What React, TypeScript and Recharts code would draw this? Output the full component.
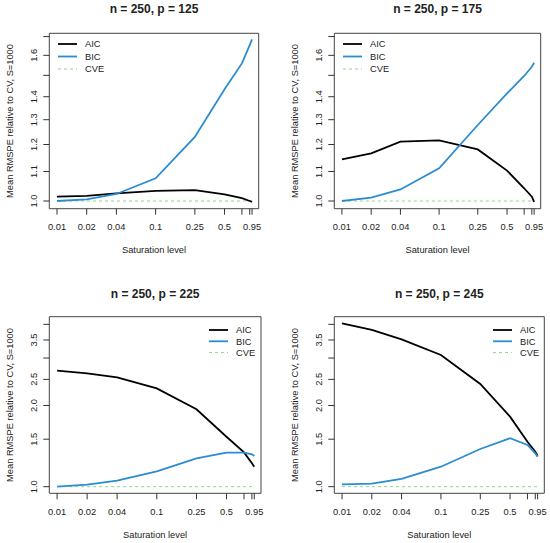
import React from 'react'
import { LineChart, Line, XAxis, YAxis, ReferenceArea, Legend } from 'recharts'

// saturation levels on the x axis (log scale)
const SATURATION = [0.01, 0.02, 0.04, 0.1, 0.25, 0.5, 0.75, 0.9, 0.95]
const X_TICKS = [0.01, 0.02, 0.04, 0.1, 0.25, 0.5, 0.75, 0.9, 0.95]
const X_LABELS = ['0.01', '0.02', '0.04', '0.1', '0.25', '0.5', '', '', '0.95']

const Y_TICKS_TOP = [1.0, 1.1, 1.2, 1.3, 1.4, 1.5, 1.6, 1.7]
const Y_LABELS_TOP = ['1.0', '1.1', '1.2', '1.3', '1.4', '', '1.6', '']
const Y_TICKS_BOTTOM = [1.0, 1.5, 2.0, 2.5, 3.0, 3.5, 4.0]
const Y_LABELS_BOTTOM = ['1.0', '1.5', '2.0', '2.5', '', '3.5', '']

const CVE = [1, 1, 1, 1, 1, 1, 1, 1, 1]

const AIC_P125 = [1.014, 1.017, 1.025, 1.033, 1.036, 1.022, 1.009, 1.0, 0.997]
const BIC_P125 = [1.0, 1.005, 1.023, 1.076, 1.23, 1.434, 1.559, 1.654, 1.685]

const AIC_P175 = [1.144, 1.166, 1.211, 1.216, 1.181, 1.103, 1.042, 1.014, 0.997]
const BIC_P175 = [1.0, 1.011, 1.038, 1.111, 1.278, 1.415, 1.497, 1.542, 1.562]

const AIC_P225 = [2.693, 2.633, 2.545, 2.316, 1.936, 1.532, 1.34, 1.221, 1.186]
const BIC_P225 = [1.0, 1.017, 1.053, 1.14, 1.274, 1.337, 1.337, 1.319, 1.3]

const AIC_P245 = [4.036, 3.812, 3.52, 3.079, 2.404, 1.818, 1.468, 1.348, 1.3]
const BIC_P245 = [1.02, 1.026, 1.068, 1.186, 1.38, 1.512, 1.428, 1.33, 1.292]

const X_DOMAIN = [0.00835, 1.11]
const Y_DOMAIN_TOP = [0.9755, 1.718]
const Y_DOMAIN_BOTTOM = [0.945, 4.27]

const FONT = '"Liberation Sans", Arial, Helvetica, sans-serif'
const TEXT = '#222'
const BLUE = '#2b8cd2'
const GREEN = '#8fd48f'
const FS = 9.3

function XTick({ x, y, payload, index }: any) {
  return (
    <text x={x} y={y + 15.3} textAnchor="middle" fontSize={FS} fill={TEXT} fontFamily={FONT}>
      {X_LABELS[index]}
    </text>
  )
}

function makeYTick(labels: string[]) {
  return function YTick({ x, y, index }: any) {
    const cx = x - 10
    return (
      <text
        x={cx}
        y={y}
        dy="0.35em"
        textAnchor="middle"
        fontSize={FS}
        fill={TEXT}
        fontFamily={FONT}
        transform={`rotate(-90, ${cx}, ${y})`}
      >
        {labels[index]}
      </text>
    )
  }
}

function XTitle({ viewBox }: any) {
  const cx = viewBox.x + viewBox.width / 2
  return (
    <text x={cx} y={viewBox.y + 44.5} textAnchor="middle" fontSize={FS} fill={TEXT} fontFamily={FONT}>
      Saturation level
    </text>
  )
}

function YTitle({ viewBox }: any) {
  const cx = viewBox.x + viewBox.width - 40
  const cy = viewBox.y + viewBox.height / 2
  return (
    <text
      x={cx}
      y={cy}
      dy="0.35em"
      textAnchor="middle"
      fontSize={FS}
      fill={TEXT}
      fontFamily={FONT}
      transform={`rotate(-90, ${cx}, ${cy})`}
    >
      Mean RMSPE relative to CV, S=1000
    </text>
  )
}

function LegendBox({ gap }: { gap: number }) {
  const rows = [
    { name: 'AIC', color: '#000', dash: undefined, w: 1.8 },
    { name: 'BIC', color: BLUE, dash: undefined, w: 1.8 },
    { name: 'CVE', color: GREEN, dash: '3 3', w: 1 },
  ]
  return (
    <svg width={60} height={40} style={{ display: 'block', overflow: 'visible' }}>
      {rows.map((r, i) => (
        <g key={r.name}>
          <line x1={0} x2={19} y1={6 + i * gap} y2={6 + i * gap} stroke={r.color} strokeWidth={r.w} strokeDasharray={r.dash} />
          <text x={27} y={6 + i * gap} dy="0.35em" fontSize={FS} fill={TEXT} fontFamily={FONT}>
            {r.name}
          </text>
        </g>
      ))}
    </svg>
  )
}

interface PanelProps {
  title: string
  aic: number[]
  bic: number[]
  yDomain: number[]
  yTicks: number[]
  yLabels: string[]
  left: number
  top: number
  width: number
  height: number
  box: { x0: number; x1: number; y0: number; y1: number }
  legend: { x: number; y: number; gap: number }
}

function Panel({ title, aic, bic, yDomain, yTicks, yLabels, left, top, width, height, box, legend }: PanelProps) {
  const data = SATURATION.map((s, i) => ({ s, aic: aic[i], bic: bic[i], cve: CVE[i] }))
  const YTick = makeYTick(yLabels)
  return (
    <div style={{ position: 'absolute', left, top, width, height }}>
      <div
        style={{
          position: 'absolute',
          left: box.x0,
          width: box.x1 - box.x0,
          top: top === 0 ? 2 : 17,
          textAlign: 'center',
          fontFamily: FONT,
          fontWeight: 'bold',
          fontSize: 12,
          color: TEXT,
          lineHeight: '14px',
          whiteSpace: 'nowrap',
        }}
      >
        {title}
      </div>
      <LineChart
        width={width}
        height={height}
        data={data}
        margin={{ top: box.y0, right: width - box.x1, bottom: 0, left: 0 }}
      >
        <XAxis
          dataKey="s"
          type="number"
          scale="log"
          domain={X_DOMAIN}
          allowDataOverflow
          ticks={X_TICKS}
          interval={0}
          axisLine={false}
          tickSize={6}
          tickMargin={0}
          tickLine={{ stroke: '#333' }}
          tick={<XTick />}
          height={height - box.y1}
          label={<XTitle />}
        />
        <YAxis
          type="number"
          scale="log"
          domain={yDomain}
          allowDataOverflow
          ticks={yTicks}
          interval={0}
          axisLine={false}
          tickSize={6}
          tickMargin={0}
          tickLine={{ stroke: '#333' }}
          tick={<YTick />}
          width={box.x0}
          label={<YTitle />}
        />
        <ReferenceArea
          x1={X_DOMAIN[0]}
          x2={X_DOMAIN[1]}
          y1={yDomain[0]}
          y2={yDomain[1]}
          fill="none"
          stroke="#444"
          strokeWidth={1}
          ifOverflow="visible"
        />
        <Line type="linear" dataKey="cve" stroke={GREEN} strokeWidth={1} strokeDasharray="3 3" dot={false} isAnimationActive={false} />
        <Line type="linear" dataKey="aic" stroke="#000" strokeWidth={1.8} dot={false} isAnimationActive={false} />
        <Line type="linear" dataKey="bic" stroke={BLUE} strokeWidth={1.8} dot={false} isAnimationActive={false} />
        <Legend
          layout="vertical"
          align="center"
          verticalAlign="middle"
          wrapperStyle={{ left: legend.x, top: legend.y - 6, width: 60, height: 40 }}
          content={() => <LegendBox gap={legend.gap} />}
        />
      </LineChart>
    </div>
  )
}

export default function App() {
  return (
    <div style={{ position: 'absolute', left: 0, top: 0, width: 550, height: 543, background: '#fff' }}>
      <Panel
        title="n = 250, p = 125"
        aic={AIC_P125}
        bic={BIC_P125}
        yDomain={Y_DOMAIN_TOP}
        yTicks={Y_TICKS_TOP}
        yLabels={Y_LABELS_TOP}
        left={0}
        top={0}
        width={275}
        height={270}
        box={{ x0: 49.3, x1: 258.7, y0: 33.3, y1: 208.7 }}
        legend={{ x: 58, y: 44.3, gap: 12.5 }}
      />
      <Panel
        title="n = 250, p = 175"
        aic={AIC_P175}
        bic={BIC_P175}
        yDomain={Y_DOMAIN_TOP}
        yTicks={Y_TICKS_TOP}
        yLabels={Y_LABELS_TOP}
        left={275}
        top={0}
        width={275}
        height={270}
        box={{ x0: 59.3, x1: 265.7, y0: 33.3, y1: 208.7 }}
        legend={{ x: 68.3, y: 44.3, gap: 12.5 }}
      />
      <Panel
        title="n = 250, p = 225"
        aic={AIC_P225}
        bic={BIC_P225}
        yDomain={Y_DOMAIN_BOTTOM}
        yTicks={Y_TICKS_BOTTOM}
        yLabels={Y_LABELS_BOTTOM}
        left={0}
        top={270}
        width={275}
        height={273}
        box={{ x0: 49.3, x1: 261, y0: 46.7, y1: 223.3 }}
        legend={{ x: 209.3, y: 60, gap: 11.3 }}
      />
      <Panel
        title="n = 250, p = 245"
        aic={AIC_P245}
        bic={BIC_P245}
        yDomain={Y_DOMAIN_BOTTOM}
        yTicks={Y_TICKS_BOTTOM}
        yLabels={Y_LABELS_BOTTOM}
        left={275}
        top={270}
        width={275}
        height={273}
        box={{ x0: 59.3, x1: 269.3, y0: 46.7, y1: 223.3 }}
        legend={{ x: 218.3, y: 60, gap: 11.3 }}
      />
    </div>
  )
}
